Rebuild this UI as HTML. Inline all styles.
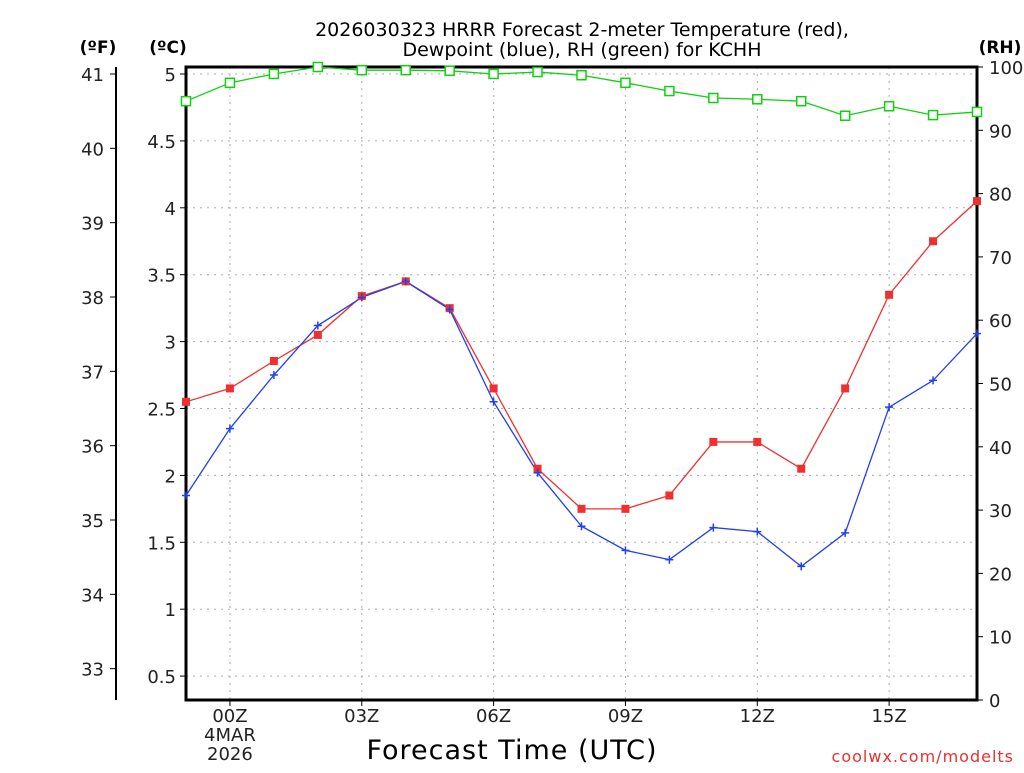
<!DOCTYPE html>
<html><head><meta charset="utf-8"><style>
html,body{margin:0;padding:0;background:#fff;}
svg text{font-family:"DejaVu Sans","Liberation Sans",sans-serif;}
</style></head><body>
<svg id="chart" width="1024" height="768" viewBox="0 0 1024 768" xmlns="http://www.w3.org/2000/svg">
<text x="582" y="36" font-size="19" text-anchor="middle" fill="#000">2026030323 HRRR Forecast 2-meter Temperature (red),</text>
<text x="582" y="56" font-size="19" text-anchor="middle" fill="#000">Dewpoint (blue), RH (green) for KCHH</text>
<text x="98" y="53" font-size="17" font-weight="bold" text-anchor="middle">(ºF)</text>
<text x="168" y="53" font-size="17" font-weight="bold" text-anchor="middle">(ºC)</text>
<text x="1000" y="53" font-size="17" font-weight="bold" text-anchor="middle">(RH)</text>
<text x="512" y="759" font-size="27" text-anchor="middle" letter-spacing="1">Forecast Time (UTC)</text>
<text x="1014" y="762" font-size="16" fill="#e83030" text-anchor="end" letter-spacing="1">coolwx.com/modelts</text>
<g id="grid"></g><g id="axes"></g><g id="series"></g>
</svg>
<script>
const hours=[-1,0,1,2,3,4,5,6,7,8,9,10,11,12,13,14,15,16,17];
const tempC=[2.55,2.65,2.855,3.05,3.34,3.45,3.25,2.65,2.05,1.75,1.75,1.85,2.25,2.25,2.05,2.65,3.35,3.75,4.05];
const dewC=[1.85,2.35,2.75,3.12,3.33,3.45,3.24,2.55,2.02,1.62,1.44,1.37,1.61,1.58,1.32,1.57,2.51,2.71,3.06];
const rh=[94.6,97.5,98.9,100,99.5,99.5,99.4,98.9,99.2,98.7,97.5,96.2,95.1,94.9,94.6,92.3,93.8,92.4,92.9];
const cTicks=[0.5,1,1.5,2,2.5,3,3.5,4,4.5,5];
const fTicks=[33,34,35,36,37,38,39,40,41];
const rhTicks=[0,10,20,30,40,50,60,70,80,90,100];
const xTickHours=[0,3,6,9,12,15];
const xTickLabels=["00Z","03Z","06Z","09Z","12Z","15Z"];

const L=186,R=977,T=67,B=700;
const x=h=>L+(h+1)*(R-L)/18;
const yC=c=>74+(5-c)*133.8;
const yF=f=>yC((f-32)/1.8);
const yR=v=>B-v*(B-T)/100;
const NS="http://www.w3.org/2000/svg";
function mk(tag,parent,attrs){const e=document.createElementNS(NS,tag);for(const k in attrs)e.setAttribute(k,attrs[k]);parent.appendChild(e);return e;}
const grid=document.getElementById('grid'),axes=document.getElementById('axes'),ser=document.getElementById('series');

cTicks.forEach(c=>{
 const g=mk('line',grid,{x1:L,x2:R,y1:yC(c),y2:yC(c),stroke:'#aaa','stroke-dasharray':'2,5'});
 
 
 mk('line',axes,{x1:L-6,x2:L,y1:yC(c),y2:yC(c),stroke:'#000'});
 const t=mk('text',axes,{x:L-10,y:yC(c)+7,'font-size':18,'text-anchor':'end',fill:'#222'});t.textContent=c;
 
 
});
xTickHours.forEach((h,i)=>{
 const g=mk('line',grid,{x1:x(h),x2:x(h),y1:T,y2:B,stroke:'#aaa','stroke-dasharray':'2,5'});
 
 
 mk('line',axes,{x1:x(h),x2:x(h),y1:B,y2:B+6,stroke:'#000'});
 const t=mk('text',axes,{x:x(h),y:B+22,'font-size':18,'text-anchor':'middle',fill:'#222'});t.textContent=xTickLabels[i];
 
 
});
[["4MAR",741],["2026",760]].forEach(d=>{const t=mk('text',axes,{x:x(0),y:d[1],'font-size':18,'text-anchor':'middle',fill:'#222'});t.textContent=d[0];
 
 });
mk('line',axes,{x1:116,x2:116,y1:T,y2:B,stroke:'#000','stroke-width':2});
fTicks.forEach(f=>{
 mk('line',axes,{x1:110,x2:116,y1:yF(f),y2:yF(f),stroke:'#000'});
 const t=mk('text',axes,{x:104,y:yF(f)+7,'font-size':18,'text-anchor':'end',fill:'#222'});t.textContent=f;
 
 
});
rhTicks.forEach(v=>{
 mk('line',axes,{x1:R,x2:R+6,y1:yR(v),y2:yR(v),stroke:'#000'});
 const t=mk('text',axes,{x:R+12,y:yR(v)+7,'font-size':18,'text-anchor':'start',fill:'#222'});t.textContent=v;
 
 
});
const fr=mk('rect',axes,{x:L,y:T,width:R-L,height:B-T,fill:'none',stroke:'#000','stroke-width':3});



function line(vals,yf,color,name){
 const p=mk('polyline',ser,{points:vals.map((v,i)=>x(hours[i])+','+yf(v)).join(' '),fill:'none',stroke:color,'stroke-width':1.3});
 
 
}
line(tempC,yC,'#f03030','temperature-line');
line(dewC,yC,'#2040f0','dewpoint-line');
line(rh,yR,'#10d010','rh-line');
tempC.forEach((v,i)=>{const r=mk('rect',ser,{x:x(hours[i])-4,y:yC(v)-4,width:8,height:8,fill:'#f03030'});
 
 });
dewC.forEach((v,i)=>{const cx=x(hours[i]),cy=yC(v);const p=mk('path',ser,{d:`M${cx-4},${cy}H${cx+4}M${cx},${cy-4}V${cy+4}`,stroke:'#2040f0','stroke-width':1.5});
 
 });
rh.forEach((v,i)=>{const r=mk('rect',ser,{x:x(hours[i])-4.5,y:yR(v)-4.5,width:9,height:9,fill:'#fff',stroke:'#10d010','stroke-width':1.5});
 
 });
</script>
</body></html>
